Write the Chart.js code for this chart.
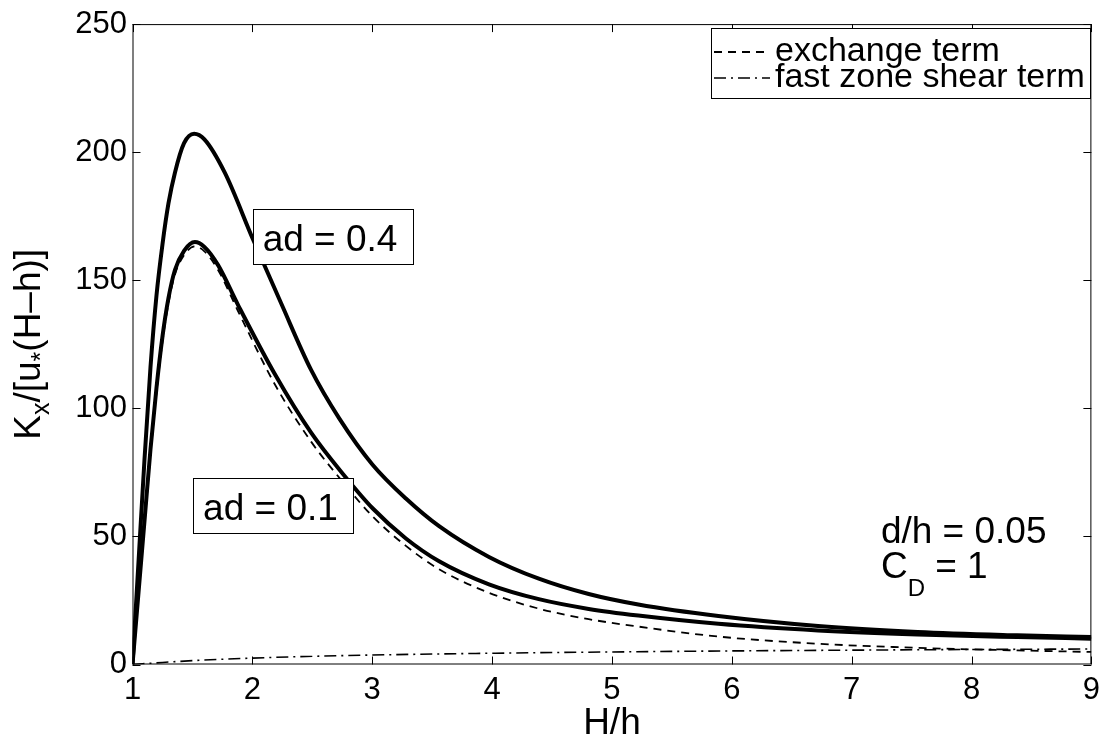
<!DOCTYPE html>
<html><head><meta charset="utf-8">
<script src="https://cdn.jsdelivr.net/npm/chart.js@4.4.0/dist/chart.umd.min.js"></script>
<style>html,body{margin:0;padding:0;background:#fff;overflow:hidden}#wrap{width:1107px;height:738px}</style>
</head><body><div id="wrap"><canvas id="c" width="1107" height="738"></canvas></div>
<script>
// ---- data ----
const xTicks = [1, 2, 3, 4, 5, 6, 7, 8, 9];
const yTicks = [0, 50, 100, 150, 200, 250];

// total, ad = 0.4
const hiX = [1, 1.05, 1.1, 1.15, 1.2, 1.25, 1.3, 1.354, 1.43, 1.514, 1.6, 1.77, 2.005, 2.24, 2.49, 2.726, 3.003, 3.281, 3.558, 3.974, 4.39, 4.806, 5.22, 5.888, 6.72, 7.55, 8.38, 9];
const hiY = [0, 40, 80, 116, 144, 164, 180, 192, 203.5, 207.2, 205, 192, 166, 141, 115, 96, 78, 64.8, 54, 42, 33.5, 27.5, 23.4, 18.9, 15.0, 12.7, 11.4, 10.7];

// total, ad = 0.1
const loX = [1, 1.05, 1.1, 1.15, 1.2, 1.25, 1.3, 1.354, 1.43, 1.52, 1.6, 1.714, 1.88, 2.186, 2.49, 2.768, 3.003, 3.281, 3.558, 3.974, 4.39, 4.806, 5.22, 5.888, 6.72, 7.55, 8.38, 9];
const loY = [0, 28, 56, 84, 108, 128, 143, 154, 161.5, 164.9, 163, 155.9, 140.4, 113.5, 90.5, 73.7, 61, 49.2, 40.3, 31.3, 25.5, 21.7, 19.1, 15.9, 13.3, 11.7, 10.7, 10.1];

// exchange term
const exX = [1, 1.05, 1.1, 1.15, 1.2, 1.25, 1.3, 1.354, 1.43, 1.52, 1.6, 1.714, 1.88, 2.186, 2.49, 2.768, 3.003, 3.281, 3.558, 3.974, 4.39, 4.806, 5.22, 5.888, 6.72, 7.55, 8.38, 9];
const exY = [0, 27, 54.5, 82, 106, 126, 141, 152.2, 159.8, 163.2, 161.3, 154, 138, 109.5, 87, 70.5, 57.8, 46.3, 37.2, 28, 21.8, 17.7, 14.8, 10.9, 8.1, 6.5, 5.5, 4.9];

// fast zone shear term
const shX = [1, 1.25, 1.5, 2, 2.5, 3, 4, 5, 6, 7, 8, 9];
const shY = [0, 0.8, 1.5, 2.5, 3.2, 3.7, 4.4, 4.9, 5.3, 5.6, 5.85, 6.05];

const legendLabels = ['exchange term', 'fast zone shear term'];
const curveNotes = ['ad = 0.4', 'ad = 0.1'];
const paramNote1 = 'd/h = 0.05';
const xTitle = 'H/h';

const FONT = "'Liberation Sans', Arial, Helvetica, sans-serif";
const pts = (xs, ys) => xs.map((x, i) => ({x, y: ys[i]}));

function richText(ctx, parts, x, y, size, subSize, subDrop) {
  let cx = x;
  for (const p of parts) {
    const s = p.sub ? subSize : size;
    ctx.font = s + 'px ' + FONT;
    ctx.fillText(p.t, cx, y + (p.sub ? subDrop : 0));
    cx += ctx.measureText(p.t).width;
  }
  return cx - x;
}
function richWidth(ctx, parts, size, subSize) {
  let w = 0;
  for (const p of parts) { ctx.font = (p.sub ? subSize : size) + 'px ' + FONT; w += ctx.measureText(p.t).width; }
  return w;
}

const decor = {
  id: 'decor',
  afterDatasetsDraw(chart) {
    const {ctx, chartArea: a, scales: {x, y}} = chart;
    ctx.save();
    ctx.strokeStyle = '#000'; ctx.lineWidth = 1; ctx.setLineDash([]);
    ctx.strokeRect(a.left + 0.5, a.top + 0.5, a.right - a.left - 1, a.bottom - a.top - 1);
    const tl = 8;
    ctx.beginPath();
    xTicks.forEach(v => {
      const px = Math.round(x.getPixelForValue(v)) + 0.5;
      ctx.moveTo(px, a.bottom); ctx.lineTo(px, a.bottom - tl);
      ctx.moveTo(px, a.top); ctx.lineTo(px, a.top + tl);
    });
    yTicks.forEach(v => {
      const py = Math.round(y.getPixelForValue(v)) + 0.5;
      ctx.moveTo(a.left, py); ctx.lineTo(a.left + tl, py);
      ctx.moveTo(a.right, py); ctx.lineTo(a.right - tl, py);
    });
    ctx.stroke();

    ctx.fillStyle = '#000';
    ctx.textBaseline = 'alphabetic';
    ctx.textAlign = 'left';

    const notes = [
      {t: curveNotes[0], x: 2.086, y: 161.5},
      {t: curveNotes[1], x: 1.589, y: 56.3}
    ];
    notes.forEach(n => {
      ctx.font = '37px ' + FONT;
      const tx = x.getPixelForValue(n.x), ty = y.getPixelForValue(n.y);
      const w = ctx.measureText(n.t).width;
      const bx = Math.round(tx - 10) + 0.5, by = Math.round(ty - 42) + 0.5;
      const bw = Math.round(w + 25), bh = 55;
      ctx.fillStyle = '#fff'; ctx.fillRect(bx, by, bw, bh);
      ctx.strokeStyle = '#000'; ctx.lineWidth = 1; ctx.strokeRect(bx, by, bw, bh);
      ctx.fillStyle = '#000'; ctx.fillText(n.t, tx, ty);
    });

    const px0 = x.getPixelForValue(7.244);
    ctx.font = '37px ' + FONT;
    ctx.fillText(paramNote1, px0, y.getPixelForValue(47.5));
    richText(ctx, [{t: 'C'}, {t: 'D', sub: true}, {t: ' = 1'}], px0, y.getPixelForValue(33.7), 37, 24, 18);

    const lx = 711.5, ly = 28.5, lw = 379, lh = 70;
    ctx.fillStyle = '#fff'; ctx.fillRect(lx, ly, lw, lh);
    ctx.strokeStyle = '#000'; ctx.lineWidth = 1; ctx.strokeRect(lx, ly, lw, lh);
    const legendSets = chart.data.datasets.filter(d => d.inLegend);
    legendSets.forEach((d, i) => {
      const yy = 52 + i * 26;
      ctx.beginPath();
      ctx.strokeStyle = '#000'; ctx.lineWidth = d.borderWidth; ctx.setLineDash(d.borderDash || []);
      ctx.moveTo(714, yy); ctx.lineTo(770, yy); ctx.stroke();
      ctx.setLineDash([]);
      ctx.fillStyle = '#000'; ctx.font = '34px ' + FONT;
      ctx.fillText(d.label, 775, yy + 9);
    });
    ctx.restore();
  },
  afterDraw(chart) {
    const {ctx, chartArea: a} = chart;
    ctx.save();
    ctx.fillStyle = '#000';
    ctx.textBaseline = 'alphabetic';
    ctx.font = '37px ' + FONT; ctx.textAlign = 'center';
    ctx.fillText(xTitle, (a.left + a.right) / 2, 734);
    ctx.textAlign = 'left';
    const parts = [{t: 'K'}, {t: 'x', sub: true}, {t: '/[u'}, {t: '*', sub: true}, {t: '(H\u2013h)]'}];
    const w = richWidth(ctx, parts, 37, 25);
    const cy = (a.top + a.bottom) / 2;
    ctx.translate(40, cy + w / 2);
    ctx.rotate(-Math.PI / 2);
    richText(ctx, parts, 0, 0, 37, 25, 9);
    ctx.restore();
  }
};

const base = {borderColor: '#000', pointRadius: 0, fill: false, cubicInterpolationMode: 'monotone', borderCapStyle: 'butt'};

new Chart(document.getElementById('c'), {
  type: 'line',
  data: {
    datasets: [
      Object.assign({label: 'ad = 0.4', data: pts(hiX, hiY), borderWidth: 4}, base),
      Object.assign({label: 'ad = 0.1', data: pts(loX, loY), borderWidth: 4}, base),
      Object.assign({label: legendLabels[0], data: pts(exX, exY), borderWidth: 1.8, borderDash: [8, 6], inLegend: true}, base),
      Object.assign({label: legendLabels[1], data: pts(shX, shY), borderWidth: 1.6, borderDash: [12, 5, 2, 5], inLegend: true}, base)
    ]
  },
  options: {
    responsive: false, animation: false, devicePixelRatio: 1,
    layout: {padding: {top: 15, right: 13.5, left: 0, bottom: 0}},
    plugins: {legend: {display: false}, tooltip: {enabled: false}},
    scales: {
      x: {
        type: 'linear', min: 1, max: 9,
        afterBuildTicks: s => { s.ticks = xTicks.map(v => ({value: v})); },
        afterFit: s => { s.height = 73.5; },
        grid: {display: false, drawTicks: false}, border: {display: false},
        ticks: {color: '#000', font: {family: FONT, size: 31}, padding: 7, maxRotation: 0, autoSkip: false}
      },
      y: {
        type: 'linear', min: 0, max: 250,
        afterBuildTicks: s => { s.ticks = yTicks.map(v => ({value: v})); },
        afterFit: s => { s.width = 132.5; },
        grid: {display: false, drawTicks: false}, border: {display: false},
        ticks: {color: '#000', font: {family: FONT, size: 31}, padding: 5.5, autoSkip: false}
      }
    }
  },
  plugins: [decor]
});
</script></body></html>
